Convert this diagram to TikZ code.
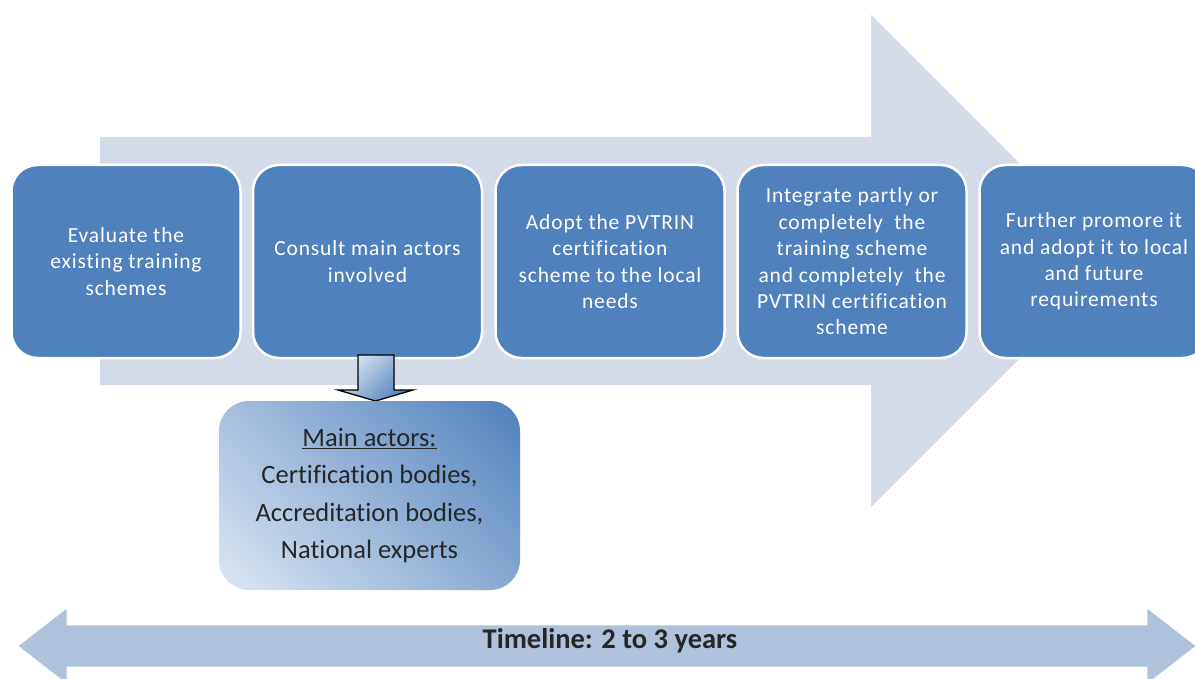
\documentclass[tikz,border=0pt]{standalone}
\usepackage{fontspec}
\setmainfont{Carlito}[Ligatures=NoCommon]
\newfontfamily\stepfont{Carlito}[Ligatures=NoCommon, LetterSpace=4]

\definecolor{stepblue}{HTML}{4F81BD}
\definecolor{bandblue}{HTML}{D3DAE8}
\definecolor{timeblue}{HTML}{B0C1DC}
\definecolor{paleblue}{HTML}{DDE6F2}
\definecolor{darktext}{HTML}{262626}

% diagonal fill of the actors box: pale in one corner, step blue in the other
\pgfdeclareverticalshading{actorshade}{100bp}{color(0bp)=(paleblue);
  color(15bp)=(paleblue); color(85bp)=(stepblue); color(100bp)=(stepblue)}

\begin{document}
\begin{tikzpicture}[x=1pt,y=-1pt,
  stepbox/.style={rounded corners=26pt, fill=stepblue, draw=white,
    line width=2.5pt, minimum width=229pt, minimum height=193pt,
    inner sep=0pt},
  steptext/.style={text=white, align=center, inner sep=0pt,
    font=\stepfont\fontsize{21.5}{26.4}\selectfont},
  actorbox/.style={rounded corners=30pt, shading=actorshade,
    shading angle=-45, draw=none,
    minimum width=301pt, minimum height=189pt, inner sep=0pt,
    text=darktext, align=center, font=\fontsize{26.5}{37.5}\selectfont},
  bigband/.style={fill=bandblue, draw=none},
  timeband/.style={fill=timeblue, draw=white, line width=0.6pt}]

\useasboundingbox (0,0) rectangle (1195,679);

% large process arrow behind the steps
\path[bigband] (100,137) -- (871,137) -- (871,15) -- (1117,261)
  -- (871,507) -- (871,385) -- (100,385) -- cycle;

% the five steps
\node[stepbox] (s1) at (126,261.5) {};
\node[steptext] (t1) at (s1.center) {Evaluate the\\existing training\\schemes};
\node[stepbox] (s2) at (367.5,261.5) {};
\node[steptext] (t2) at (s2.center) {Consult main actors\\involved};
\node[stepbox] (s3) at (610,261.5) {};
\node[steptext] (t3) at (s3.center) {Adopt the PVTRIN\\certification\\scheme to the local\\needs};
\node[stepbox] (s4) at (852,261.5) {};
\begin{scope}
  \clip (737,160) rectangle (967,334);
  \node[steptext] (t4) at (s4.center) {Integrate partly or\\completely\ \ the\\training scheme\\and completely\ \ the\\PVTRIN certification\\scheme};
\end{scope}
\node[stepbox] (s5) at (1094,261.5) {};
\node[steptext] (t5) at (s5.center) {Further promore it\\and adopt it to local\\and future\\requirements};

% block arrow from step 2 to the actors box
\path[top color=paleblue, bottom color=stepblue, shading angle=45,
  draw=black, line width=1.3pt, line join=miter]
  (358,355) -- (394,355) -- (394,390) -- (413,390) -- (375.5,401)
  -- (338,390) -- (358,390) -- cycle;

% main actors
\node[actorbox] (actors) at (369.5,495.5)
  {\underline{Main actors:}\\Certification bodies,\\Accreditation bodies,\\National experts};

% timeline double arrow
\path[timeband] (18,646) -- (67,608) -- (67,625) -- (1147,625) -- (1147,608)
  -- (1196,646) -- (1147,684) -- (1147,667) -- (67,667) -- (67,684) -- cycle;
\node[text=darktext, font=\fontsize{28.5}{32}\selectfont\bfseries, inner sep=0pt]
  (timeline) at (610,641) {Timeline: 2 to 3 years};

\end{tikzpicture}
\end{document}
